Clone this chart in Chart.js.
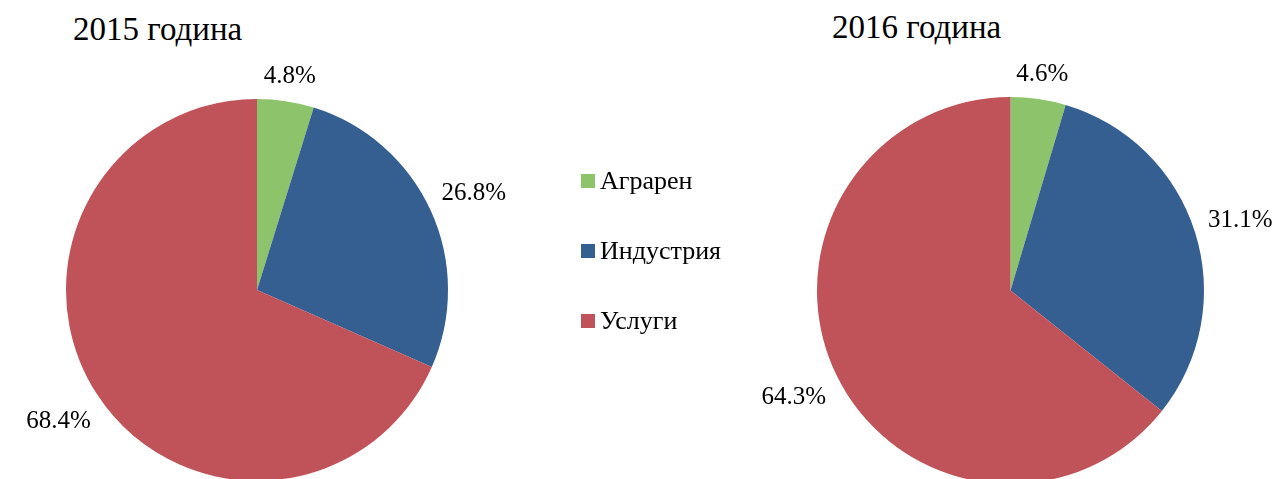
<!DOCTYPE html>
<html>
<head>
<meta charset="utf-8">
<script src="https://cdn.jsdelivr.net/npm/chart.js@4.4.0/dist/chart.umd.min.js"></script>
<style>
    html, body { margin: 0; padding: 0; background: #ffffff; overflow: hidden; }
    body { width: 1282px; height: 479px; position: relative; font-family: "Liberation Serif", "Times New Roman", serif; }
    .titulo { position: absolute; font-size: 33px; color: #000; white-space: nowrap; line-height: 1; }
    .lienzo { position: absolute; }
    #leyenda { position: absolute; left: 581px; top: 164px; }
    .item { height: 70px; display: flex; align-items: flex-start; font-size: 26px; line-height: 34px; color: #000; }
    .caja { width: 14px; height: 14px; margin-top: 10px; margin-right: 5px; }
</style>
</head>
<body>
<div class="titulo" id="titulo1" style="left:73px; top:13px;"></div>
<div class="titulo" id="titulo2" style="left:832px; top:11px;"></div>
<div class="lienzo" style="left:0; top:0; width:600px; height:490px;"><canvas id="chart2015"></canvas></div>
<div class="lienzo" style="left:700px; top:0; width:582px; height:490px;"><canvas id="chart2016"></canvas></div>
<div id="leyenda"></div>

<script>
// ===== DATOS =====
const categorias = ['Аграрен', 'Индустрия', 'Услуги'];
const titulos = ['2015 година', '2016 година'];
const valores2015 = [4.8, 26.8, 68.4];
const valores2016 = [4.6, 31.1, 64.3];
const colores = ['#8DC36A', '#355F91', '#C0535A'];

document.getElementById('titulo1').textContent = titulos[0];
document.getElementById('titulo2').textContent = titulos[1];

// Leyenda compartida
const leyenda = document.getElementById('leyenda');
categorias.forEach(function(cat, i) {
    const item = document.createElement('div');
    item.className = 'item';
    const caja = document.createElement('div');
    caja.className = 'caja';
    caja.style.background = colores[i];
    const texto = document.createElement('span');
    texto.textContent = cat;
    item.appendChild(caja);
    item.appendChild(texto);
    leyenda.appendChild(item);
});

// Etiquetas de porcentaje fuera del sector
const etiquetasFuera = {
    id: 'etiquetasFuera',
    afterDraw(chart) {
        const ctx = chart.ctx;
        const meta = chart.getDatasetMeta(0);
        const datos = chart.data.datasets[0].data;
        ctx.save();
        ctx.font = '25px "Liberation Serif", "Times New Roman", serif';
        ctx.fillStyle = '#000';
        ctx.textAlign = 'center';
        ctx.textBaseline = 'middle';
        meta.data.forEach(function(arc, i) {
            const p = arc.getProps(['x', 'y', 'startAngle', 'endAngle', 'outerRadius'], true);
            const ang = (p.startAngle + p.endAngle) / 2;
            const texto = datos[i].toFixed(1) + '%';
            const w = ctx.measureText(texto).width;
            const dx = Math.cos(ang), dy = Math.sin(ang);
            const d = p.outerRadius + 14 + Math.abs(dx) * w / 2 + Math.abs(dy) * 9;
            ctx.fillText(texto, p.x + dx * d, p.y + dy * d + 2);
        });
        ctx.restore();
    }
};

function crearPie(id, valores, padding) {
    return new Chart(document.getElementById(id), {
        type: 'pie',
        data: {
            labels: categorias,
            datasets: [{
                data: valores,
                backgroundColor: colores,
                borderWidth: 0
            }]
        },
        options: {
            responsive: true,
            maintainAspectRatio: false,
            animation: false,
            layout: { padding: padding },
            plugins: {
                legend: { display: false },
                tooltip: { enabled: false }
            }
        },
        plugins: [etiquetasFuera]
    });
}

crearPie('chart2015', valores2015, { left: 66, right: 152, top: 99, bottom: 9 });
crearPie('chart2016', valores2016, { left: 117, right: 78, top: 97, bottom: 6 });
</script>
</body>
</html>
